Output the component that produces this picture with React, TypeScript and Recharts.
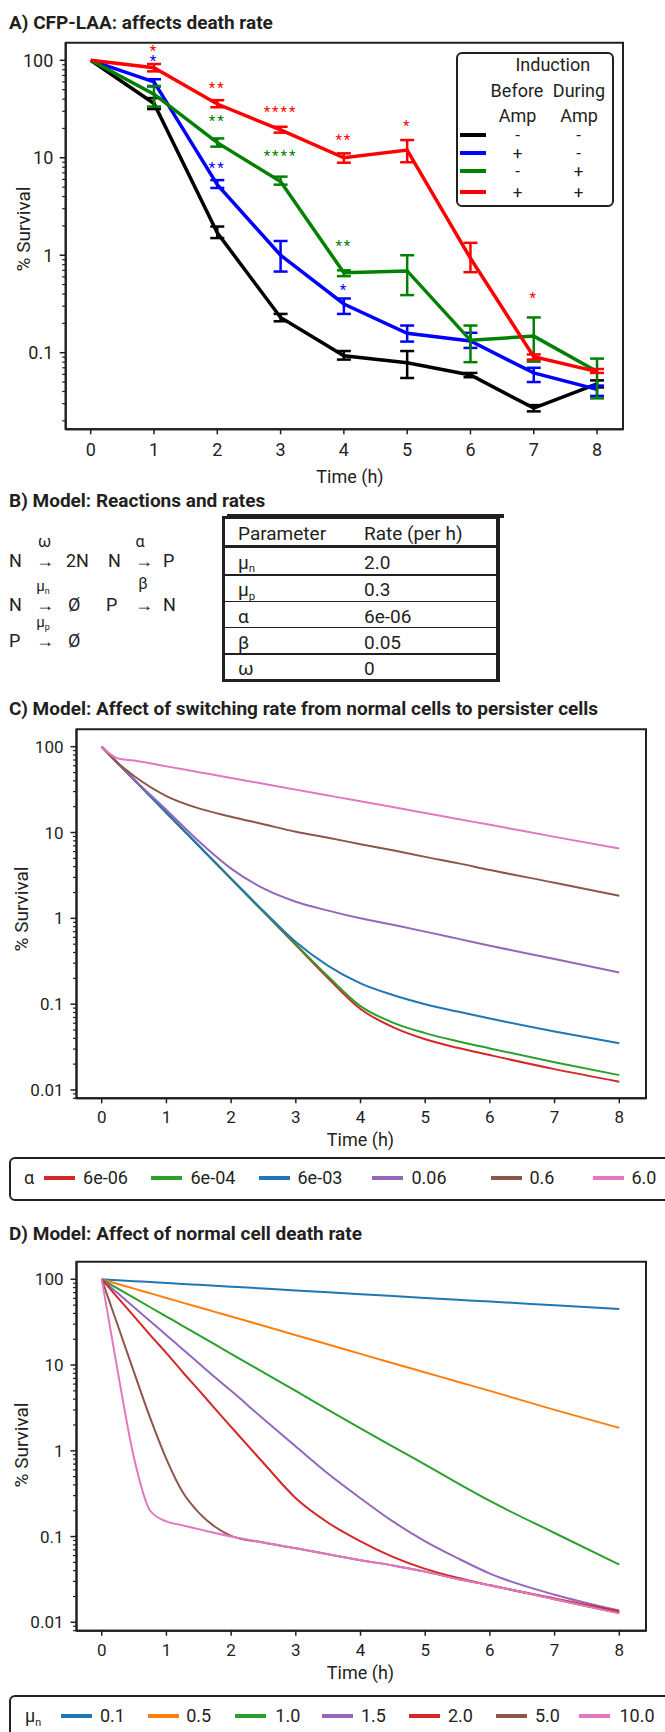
import React from 'react';
import {
  ComposedChart,
  LineChart,
  Line,
  XAxis,
  YAxis,
  ErrorBar,
  Scatter,
  ReferenceArea,
  Legend,
  Label,
} from 'recharts';

const INK = '#231f20';

// ---------- A) CFP-LAA measurements ----------
const TIME_A = [0, 1, 2, 3, 4, 5, 6, 7, 8];
const STRAINS = ['none', 'before', 'during', 'both'];
const STRAIN_COLORS = ['#000000', '#0000ff', '#008000', '#ff0000'];
const BEFORE_AMP = ['-', '+', '-', '+'];
const DURING_AMP = ['-', '-', '+', '+'];

const NONE_MEAN = [100, 36, 1.7, 0.23, 0.093, 0.079, 0.059, 0.027, 0.048];
const NONE_LOW = [100, 31.6, 1.5, 0.21, 0.085, 0.055, 0.056, 0.025, 0.044];
const NONE_HIGH = [100, 41, 1.97, 0.25, 0.104, 0.104, 0.062, 0.029, 0.052];
const BEFORE_MEAN = [100, 60, 5.3, 1.0, 0.316, 0.158, 0.132, 0.062, 0.042];
const BEFORE_LOW = [100, 54, 4.9, 0.68, 0.25, 0.13, 0.112, 0.05, 0.036];
const BEFORE_HIGH = [100, 64, 5.9, 1.4, 0.36, 0.19, 0.16, 0.07, 0.046];
const DURING_MEAN = [100, 45, 14.3, 5.7, 0.66, 0.69, 0.134, 0.148, 0.064];
const DURING_LOW = [100, 33.5, 13, 5.3, 0.61, 0.39, 0.08, 0.081, 0.034];
const DURING_HIGH = [100, 54.5, 15.8, 6.4, 0.7, 1.0, 0.19, 0.23, 0.087];
const BOTH_MEAN = [100, 84, 35.6, 19.3, 10, 12, 0.93, 0.091, 0.064];
const BOTH_LOW = [100, 77, 33, 18.1, 8.9, 9, 0.67, 0.085, 0.062];
const BOTH_HIGH = [100, 91.6, 39, 20.8, 11.1, 15.2, 1.34, 0.096, 0.068];

// significance stars
const STAR_TIME = [1, 1, 2, 2, 2, 3, 3, 4, 4, 4, 5, 7];
const STAR_LEVEL = [134, 105, 55.8, 25.4, 8.5, 32, 11.1, 16.5, 1.33, 0.47, 22.9, 0.39];
const STAR_MARK = ['*', '*', '**', '**', '**', '****', '****', '**', '**', '*', '*', '*'];
const STAR_STRAIN = [3, 1, 3, 2, 1, 3, 2, 3, 2, 1, 3, 3];

// ---------- B) model parameters ----------
const PARAM_NAMES = ['μ', 'μ', 'α', 'β', 'ω'];
const PARAM_SUBS = ['n', 'p', '', '', ''];
const PARAM_RATES = ['2.0', '0.3', '6e-06', '0.05', '0'];

// ---------- C) switching rate alpha ----------
const TIME_C = [0, 0.25, 0.5, 1, 1.5, 2, 2.5, 3, 3.5, 4, 4.5, 5, 5.5, 6, 7, 8];
const ALPHA_LABELS = ['6e-06', '6e-04', '6e-03', '0.06', '0.6', '6.0'];
const ALPHA_COLORS = ['#d62728', '#2ca02c', '#1f77b4', '#9467bd', '#8c564b', '#e377c2'];
const C_6E06 = [100, 64.2, 41.2, 17.0, 7.0, 2.88, 1.19, 0.49, 0.2, 0.088, 0.054, 0.039, 0.031, 0.0255, 0.0175, 0.0125];
const C_6E04 = [100, 64.2, 41.2, 17.0, 7.0, 2.88, 1.19, 0.5, 0.21, 0.095, 0.061, 0.046, 0.037, 0.0305, 0.021, 0.0149];
const C_6E03 = [100, 64.2, 41.2, 17.0, 7.0, 2.9, 1.22, 0.53, 0.28, 0.175, 0.128, 0.1, 0.082, 0.068, 0.048, 0.035];
const C_006 = [100, 64.2, 41.5, 18.3, 7.9, 3.8, 2.23, 1.56, 1.23, 1.0, 0.84, 0.7, 0.58, 0.48, 0.335, 0.234];
const C_06 = [100, 64.5, 45.5, 26.6, 19.1, 15.3, 12.5, 10.2, 8.7, 7.3, 6.2, 5.2, 4.4, 3.66, 2.6, 1.83];
const C_6 = [100, 73, 69, 59, 50.5, 43.2, 37, 31.6, 27, 23.1, 19.8, 16.9, 14.4, 12.3, 8.9, 6.5];
const ALPHA_SERIES = [C_6E06, C_6E04, C_6E03, C_006, C_06, C_6];

// ---------- D) normal cell death rate mu_n ----------
const TIME_D = [0, 0.1, 0.25, 0.5, 0.75, 1, 1.25, 1.5, 1.75, 2, 2.5, 3, 3.5, 4, 4.5, 5, 5.5, 6, 7, 8];
const MU_LABELS = ['0.1', '0.5', '1.0', '1.5', '2.0', '5.0', '10.0'];
const MU_COLORS = ['#1f77b4', '#ff7f0e', '#2ca02c', '#9467bd', '#d62728', '#8c564b', '#e377c2'];
const D_01 = [100, 99, 97.5, 95.1, 92.8, 90.5, 88.2, 86.1, 84, 82, 78, 74, 70.5, 67, 63.8, 60.6, 57.7, 55, 49.7, 45];
const D_05 = [100, 95.1, 88.2, 77.9, 68.7, 60.6, 53.5, 47.2, 41.7, 36.8, 28.7, 22.3, 17.4, 13.5, 10.5, 8.2, 6.4, 5.0, 3.0, 1.85];
const D_10 = [100, 90.5, 77.9, 60.6, 47.2, 36.8, 28.7, 22.3, 17.4, 13.5, 8.2, 5.0, 3.0, 1.83, 1.12, 0.69, 0.42, 0.26, 0.11, 0.047];
const D_15 = [100, 86, 68.7, 47.2, 32.5, 22.3, 15.3, 10.5, 7.2, 5.0, 2.35, 1.12, 0.54, 0.28, 0.15, 0.088, 0.056, 0.037, 0.021, 0.0137];
const D_20 = [100, 82, 60.6, 37, 22.3, 13.8, 8.3, 5.1, 3.1, 1.9, 0.72, 0.28, 0.145, 0.088, 0.058, 0.042, 0.033, 0.027, 0.019, 0.0134];
const D_50 = [100, 60.6, 28.7, 8.2, 2.4, 0.8, 0.33, 0.19, 0.13, 0.102, 0.085, 0.073, 0.062, 0.053, 0.046, 0.039, 0.032, 0.027, 0.0186, 0.0128];
const D_100 = [100, 36.8, 8.2, 0.82, 0.2, 0.15, 0.135, 0.122, 0.11, 0.1, 0.085, 0.073, 0.062, 0.053, 0.046, 0.039, 0.032, 0.027, 0.0186, 0.0127];
const MU_SERIES = [D_01, D_05, D_10, D_15, D_20, D_50, D_100];

// ---------- axes ----------
const X_TICKS = [0, 1, 2, 3, 4, 5, 6, 7, 8];
const DECADES = [0.001, 0.01, 0.1, 1, 10, 100];
const MAJOR_TICKS = [0.01, 0.1, 1, 10, 100];
const MAJOR_LABELS = ['0.01', '0.1', '1', '10', '100'];

const A_X = [-0.395, 8.41];
const A_Y = [0.01637, 151.6];
const CD_X = [-0.39, 8.413];
const C_Y = [0.008, 159.5];
const D_Y = [0.00798, 160.4];

// chart A frame
const A_H = 470;
const A_MARGIN = { top: 12.7, right: 42, bottom: 10.7, left: 0 };
const A_XAXIS_H = 60;
const A_PX_PER_DECADE = (A_H - A_MARGIN.top - A_MARGIN.bottom - A_XAXIS_H) / Math.log10(A_Y[1] / A_Y[0]);

// build tables for recharts
const MEANS = [NONE_MEAN, BEFORE_MEAN, DURING_MEAN, BOTH_MEAN];
const LOWS = [NONE_LOW, BEFORE_LOW, DURING_LOW, BOTH_LOW];
const HIGHS = [NONE_HIGH, BEFORE_HIGH, DURING_HIGH, BOTH_HIGH];

const dataA = TIME_A.map((t, i) => {
  const row: Record<string, unknown> = { t };
  STRAINS.forEach((k, s) => {
    const m = MEANS[s][i];
    row[k] = m;
    row[`${k}Err`] = LOWS[s][i] === HIGHS[s][i] ? null : [m - LOWS[s][i], HIGHS[s][i] - m];
  });
  return row;
});

// stars closer than a fifth of a decade at the same time are drawn as one stacked label
type Star = { v: number; mark: string; color: string };
const starData: { t: number; v: number; stack: Star[] }[] = [];
STAR_TIME.forEach((t, i) => {
  const star = { v: STAR_LEVEL[i], mark: STAR_MARK[i], color: STRAIN_COLORS[STAR_STRAIN[i]] };
  const group = starData.find((g) => g.t === t && Math.abs(Math.log10(g.v / star.v)) < 0.2);
  if (group) group.stack.push(star);
  else starData.push({ t, v: star.v, stack: [star] });
});

const dataC = TIME_C.map((t, i) => {
  const row: Record<string, number> = { t };
  ALPHA_SERIES.forEach((s, k) => (row[`a${k}`] = s[i]));
  return row;
});

const dataD = TIME_D.map((t, i) => {
  const row: Record<string, number> = { t };
  MU_SERIES.forEach((s, k) => (row[`m${k}`] = s[i]));
  return row;
});

function logTicks(lo: number, hi: number) {
  const out: number[] = [];
  DECADES.forEach((d) => {
    for (let m = 1; m <= 9; m++) {
      const v = m === 1 ? d : +(m * d).toPrecision(3);
      if (v >= lo && v <= hi) out.push(v);
    }
  });
  return out;
}

function yTick(axisX: number, fontSize: number, gap: number) {
  return (props: any) => {
    const { y, payload } = props;
    const k = MAJOR_TICKS.indexOf(payload.value);
    const major = k >= 0;
    return (
      <g>
        <line x1={axisX - (major ? 6 : 3.5)} x2={axisX} y1={y} y2={y} stroke={INK} strokeWidth={major ? 1.5 : 1.2} />
        {major && (
          <text x={axisX - gap} y={y} dy="0.36em" textAnchor="end" fontSize={fontSize} fill={INK}>
            {MAJOR_LABELS[k]}
          </text>
        )}
      </g>
    );
  };
}

function StarShape(p: any) {
  const stack: Star[] = p.payload.stack;
  const size = 15;
  return (
    <text x={p.cx} textAnchor="middle" fontSize={size} letterSpacing={2}>
      {stack.map((s, i) => (
        <tspan
          key={i}
          x={p.cx}
          y={p.cy - Math.log10(s.v / p.payload.v) * A_PX_PER_DECADE + size * 0.54}
          fill={s.color}
        >
          {s.mark}
        </tspan>
      ))}
    </text>
  );
}

const timeLabel = (x: number, y: number) => () => (
  <text x={x} y={y} textAnchor="middle" fontSize={18} fill={INK}>
    Time (h)
  </text>
);

const survivalLabel = (x: number, y: number) => () => (
  <text x={x} y={y} transform={`rotate(-90 ${x} ${y})`} textAnchor="middle" dominantBaseline="central" fontSize={19} fill={INK}>
    % Survival
  </text>
);

// ---------- small html helpers ----------
function At({ x, y, size = 18, bold = false, center = false, children }: any) {
  return (
    <div
      style={{
        position: 'absolute',
        left: x,
        top: y,
        fontSize: size,
        fontWeight: bold ? 700 : 400,
        lineHeight: 1,
        whiteSpace: 'nowrap',
        transform: center ? 'translate(-50%, -50%)' : 'translateY(-50%)',
      }}
    >
      {children}
    </div>
  );
}

function Mu({ sub, size = 19 }: { sub: string; size?: number }) {
  return (
    <span>
      μ<span style={{ fontSize: size * 0.6, position: 'relative', top: size * 0.2 }}>{sub}</span>
    </span>
  );
}

// ---------- legends ----------
function LegendA() {
  const rowY = [81.1, 99.1, 117.1, 138.1];
  return (
    <div
      style={{
        position: 'relative',
        boxSizing: 'border-box',
        width: 158,
        height: 155,
        border: `2.5px solid ${INK}`,
        borderRadius: 6,
        background: '#fff',
        color: INK,
      }}
    >
      <At x={94.8} y={11.5} size={18} center>Induction</At>
      <At x={59} y={37.5} size={18} center>Before</At>
      <At x={121} y={37.5} size={18} center>During</At>
      <At x={59.5} y={62} size={18} center>Amp</At>
      <At x={121} y={62} size={18} center>Amp</At>
      {STRAINS.map((k, s) => (
        <React.Fragment key={k}>
          <div style={{ position: 'absolute', left: 1.5, top: rowY[s] - 2, width: 26, height: 4, background: STRAIN_COLORS[s] }} />
          <At x={59.5} y={rowY[s]} size={17} center>{BEFORE_AMP[s]}</At>
          <At x={120.5} y={rowY[s]} size={17} center>{DURING_AMP[s]}</At>
        </React.Fragment>
      ))}
    </div>
  );
}

function LegendRow({ boxLeft, symbol, symbolX, labels, colors, lineX, textX }: any) {
  const inner = boxLeft + 2.5;
  return (
    <div
      style={{
        position: 'relative',
        boxSizing: 'border-box',
        width: 700,
        height: 43.4,
        border: `2.5px solid ${INK}`,
        borderRadius: 6,
        background: '#fff',
        color: INK,
      }}
    >
      <At x={symbolX - inner} y={19.2} size={18} center>{symbol}</At>
      {labels.map((lab: string, i: number) => (
        <React.Fragment key={lab}>
          <div style={{ position: 'absolute', left: lineX[i] - inner, top: 17.2, width: 31, height: 4, background: colors[i] }} />
          <At x={textX[i] - inner} y={19.2} size={18}>{lab}</At>
        </React.Fragment>
      ))}
    </div>
  );
}

const C_LINE_X = [44.5, 151.5, 259.6, 372.5, 491, 593];
const C_TEXT_X = [83.6, 191, 298, 412, 530, 632];
const D_LINE_X = [61.5, 148.5, 235.5, 322.4, 409.4, 496.4, 579];
const D_TEXT_X = [100.5, 186.7, 275.8, 361.5, 448.4, 535.4, 620];

const axisCommon = {
  axisLine: { stroke: INK, strokeWidth: 2 },
};

export default function App() {
  return (
    <div
      style={{
        position: 'relative',
        width: 665,
        height: 1732,
        overflow: 'hidden',
        background: '#fff',
        color: INK,
        fontFamily: 'Roboto, "Noto Sans", sans-serif',
      }}
    >
      <style>{'body{margin:0;overflow:hidden}'}</style>

      {/* A */}
      <At x={9} y={21.7} size={19} bold>A) CFP-LAA: affects death rate</At>
      <div style={{ position: 'absolute', left: 0, top: 30 }}>
        <ComposedChart width={665} height={A_H} data={dataA} margin={A_MARGIN}>
          <XAxis
            dataKey="t"
            type="number"
            domain={A_X}
            allowDataOverflow
            ticks={X_TICKS}
            interval={0}
            height={A_XAXIS_H}
            tickSize={5}
            tickMargin={9}
            tick={{ fontSize: 18, fill: INK }}
            tickLine={{ stroke: INK, strokeWidth: 1.5 }}
            {...axisCommon}
          >
            <Label content={timeLabel(350, 453)} />
          </XAxis>
          <YAxis
            scale="log"
            domain={A_Y}
            allowDataOverflow
            ticks={logTicks(A_Y[0], A_Y[1])}
            interval={0}
            width={65.7}
            tick={yTick(65.7, 18, 12.4)}
            tickLine={false}
            {...axisCommon}
          >
            <Label content={survivalLabel(23, 199)} />
          </YAxis>
          <ReferenceArea x1={A_X[0]} x2={A_X[1]} y1={A_Y[0]} y2={A_Y[1]} fill="none" stroke={INK} strokeWidth={2} ifOverflow="visible" />
          {STRAINS.map((k, s) => (
            <Line
              key={k}
              dataKey={k}
              type="linear"
              stroke={STRAIN_COLORS[s]}
              strokeWidth={3.5}
              dot={false}
              activeDot={false}
              isAnimationActive={false}
            >
              <ErrorBar dataKey={`${k}Err`} width={7} stroke={STRAIN_COLORS[s]} strokeWidth={2.5} direction="y" isAnimationActive={false} />
            </Line>
          ))}
          <Scatter data={starData} dataKey="v" isAnimationActive={false} shape={StarShape} />
          <Legend
            layout="horizontal"
            verticalAlign="middle"
            align="center"
            wrapperStyle={{ left: 456, top: 21.7, width: 158, height: 155 }}
            content={() => <LegendA />}
          />
        </ComposedChart>
      </div>

      {/* B */}
      <At x={9} y={500} size={19} bold>B) Model: Reactions and rates</At>
      <At x={9} y={561}>N</At>
      <At x={36} y={561}>→</At>
      <At x={66} y={561}>2N</At>
      <At x={44.5} y={542} size={16} center>ω</At>
      <At x={108} y={561}>N</At>
      <At x={135} y={561}>→</At>
      <At x={163} y={561}>P</At>
      <At x={140} y={542} size={16} center>α</At>
      <At x={9} y={604.5}>N</At>
      <At x={36} y={604.5}>→</At>
      <At x={68} y={604.5}>Ø</At>
      <At x={43} y={586} size={15} center><Mu sub="n" size={15} /></At>
      <At x={106} y={604.5}>P</At>
      <At x={135} y={604.5}>→</At>
      <At x={163} y={604.5}>N</At>
      <At x={143} y={584} size={16} center>β</At>
      <At x={9} y={641}>P</At>
      <At x={36} y={641}>→</At>
      <At x={68} y={641}>Ø</At>
      <At x={43} y={622} size={15} center><Mu sub="p" size={15} /></At>

      <div style={{ position: 'absolute', left: 227, top: 513.5, width: 277, height: 4, background: INK }} />
      <div
        style={{
          position: 'absolute',
          left: 222,
          top: 516,
          width: 278,
          height: 166,
          boxSizing: 'border-box',
          border: `3px solid ${INK}`,
          borderRightWidth: 4,
        }}
      />
      <div style={{ position: 'absolute', left: 222, top: 544.5, width: 278, height: 3, background: INK }} />
      {[575, 601.7, 627.3, 654].map((y) => (
        <div key={y} style={{ position: 'absolute', left: 222, top: y - 0.75, width: 278, height: 1.5, background: INK }} />
      ))}
      <At x={238} y={533} size={19}>Parameter</At>
      <At x={364} y={533} size={19}>Rate (per h)</At>
      {PARAM_NAMES.map((name, i) => {
        const cy = [561.7, 589, 616, 641.7, 668][i];
        return (
          <React.Fragment key={i}>
            <At x={238} y={cy} size={19}>
              {PARAM_SUBS[i] ? <Mu sub={PARAM_SUBS[i]} /> : name}
            </At>
            <At x={364} y={cy} size={19}>{PARAM_RATES[i]}</At>
          </React.Fragment>
        );
      })}

      {/* C */}
      <At x={9} y={708.3} size={19} bold>C) Model: Affect of switching rate from normal cells to persister cells</At>
      <div style={{ position: 'absolute', left: 0, top: 720 }}>
        <LineChart width={665} height={450} data={dataC} margin={{ top: 9.3, right: 19, bottom: 11.7, left: 0 }}>
          <XAxis
            dataKey="t"
            type="number"
            domain={CD_X}
            allowDataOverflow
            ticks={X_TICKS}
            interval={0}
            height={60}
            tickSize={5}
            tickMargin={8}
            tick={{ fontSize: 17, fill: INK }}
            tickLine={{ stroke: INK, strokeWidth: 1.5 }}
            {...axisCommon}
          >
            <Label content={timeLabel(360.5, 426.3)} />
          </XAxis>
          <YAxis
            scale="log"
            domain={C_Y}
            allowDataOverflow
            ticks={logTicks(C_Y[0], C_Y[1])}
            interval={0}
            width={76.5}
            tick={yTick(76.5, 17, 13)}
            tickLine={false}
            {...axisCommon}
          >
            <Label content={survivalLabel(21, 189)} />
          </YAxis>
          <ReferenceArea x1={CD_X[0]} x2={CD_X[1]} y1={C_Y[0]} y2={C_Y[1]} fill="none" stroke={INK} strokeWidth={2} ifOverflow="visible" />
          {ALPHA_LABELS.map((lab, k) => (
            <Line
              key={lab}
              name={lab}
              dataKey={`a${k}`}
              type="monotone"
              stroke={ALPHA_COLORS[k]}
              strokeWidth={2}
              dot={false}
              activeDot={false}
              isAnimationActive={false}
            />
          ))}
          <Legend
            layout="horizontal"
            verticalAlign="middle"
            align="center"
            wrapperStyle={{ left: 8.5, top: 437.3, width: 700, height: 43.4 }}
            content={() => (
              <LegendRow
                boxLeft={8.5}
                symbol="α"
                symbolX={29.7}
                labels={ALPHA_LABELS}
                colors={ALPHA_COLORS}
                lineX={C_LINE_X}
                textX={C_TEXT_X}
              />
            )}
          />
        </LineChart>
      </div>

      {/* D */}
      <At x={9} y={1233} size={19} bold>D) Model: Affect of normal cell death rate</At>
      <div style={{ position: 'absolute', left: 0, top: 1250 }}>
        <LineChart width={665} height={450} data={dataD} margin={{ top: 11.7, right: 19, bottom: 9.3, left: 0 }}>
          <XAxis
            dataKey="t"
            type="number"
            domain={CD_X}
            allowDataOverflow
            ticks={X_TICKS}
            interval={0}
            height={60}
            tickSize={5}
            tickMargin={8}
            tick={{ fontSize: 17, fill: INK }}
            tickLine={{ stroke: INK, strokeWidth: 1.5 }}
            {...axisCommon}
          >
            <Label content={timeLabel(360.5, 428.6)} />
          </XAxis>
          <YAxis
            scale="log"
            domain={D_Y}
            allowDataOverflow
            ticks={logTicks(D_Y[0], D_Y[1])}
            interval={0}
            width={76.5}
            tick={yTick(76.5, 17, 13)}
            tickLine={false}
            {...axisCommon}
          >
            <Label content={survivalLabel(21, 195)} />
          </YAxis>
          <ReferenceArea x1={CD_X[0]} x2={CD_X[1]} y1={D_Y[0]} y2={D_Y[1]} fill="none" stroke={INK} strokeWidth={2} ifOverflow="visible" />
          {MU_LABELS.map((lab, k) => (
            <Line
              key={lab}
              name={lab}
              dataKey={`m${k}`}
              type="monotone"
              stroke={MU_COLORS[k]}
              strokeWidth={2}
              dot={false}
              activeDot={false}
              isAnimationActive={false}
            />
          ))}
          <Legend
            layout="horizontal"
            verticalAlign="middle"
            align="center"
            wrapperStyle={{ left: 8.5, top: 445, width: 700, height: 43.4 }}
            content={() => (
              <LegendRow
                boxLeft={8.5}
                symbol={<Mu sub="n" size={18} />}
                symbolX={33.5}
                labels={MU_LABELS}
                colors={MU_COLORS}
                lineX={D_LINE_X}
                textX={D_TEXT_X}
              />
            )}
          />
        </LineChart>
      </div>
    </div>
  );
}
